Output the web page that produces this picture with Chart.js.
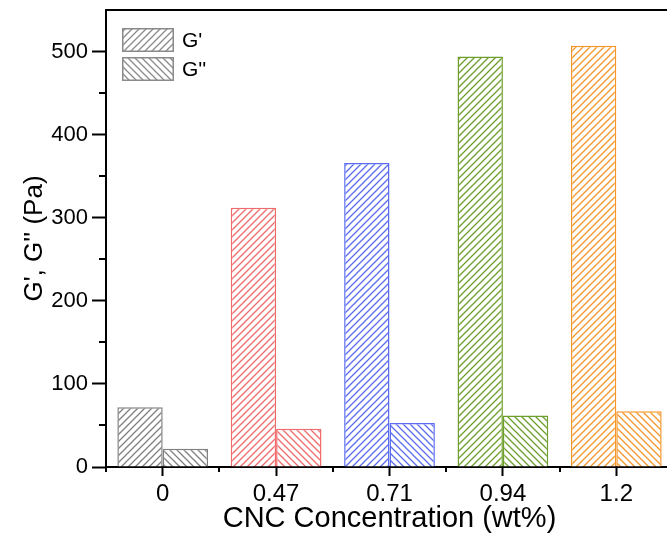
<!DOCTYPE html>
<html>
<head>
<meta charset="utf-8">
<script src="https://cdn.jsdelivr.net/npm/chart.js"></script>
<style>
  html, body { margin: 0; padding: 0; background: #fff; overflow: hidden; }
  #wrap { width: 680px; height: 538px; }
</style>
</head>
<body>
<div id="wrap"><canvas id="modulusChart" width="680" height="538"></canvas></div>
<script>
  // CNC concentration (wt%) on x, moduli in Pa
  const categories = ['0', '0.47', '0.71', '0.94', '1.2'];
  const storageModulus = [72, 312, 366, 494, 507];   // G'
  const lossModulus = [22, 46, 53, 62, 67];          // G''
  const yTicks = [0, 100, 200, 300, 400, 500];
  const yMinorTicks = [50, 150, 250, 350, 450];

  const barColors = ['#808080', '#f06b6b', '#5b6cf0', '#6d9f2c', '#f5962a'];
  const FONT = "'Liberation Sans', Arial, sans-serif";

  const ctx = document.getElementById('modulusChart').getContext('2d');

  // diagonal hatch, dir 1 = "/", dir -1 = "\"
  function hatch(color, dir) {
    const s = 7;
    const c = document.createElement('canvas');
    c.width = s; c.height = s;
    const g = c.getContext('2d');
    g.fillStyle = '#fff';
    g.fillRect(0, 0, s, s);
    g.strokeStyle = color;
    g.lineWidth = 1.3;
    g.beginPath();
    if (dir > 0) {
      g.moveTo(-1, s + 1); g.lineTo(s + 1, -1);
      g.moveTo(-1, 1); g.lineTo(1, -1);
      g.moveTo(s - 1, s + 1); g.lineTo(s + 1, s - 1);
    } else {
      g.moveTo(-1, -1); g.lineTo(s + 1, s + 1);
      g.moveTo(s - 1, -1); g.lineTo(s + 1, 1);
      g.moveTo(-1, s - 1); g.lineTo(1, s + 1);
    }
    g.stroke();
    return ctx.createPattern(c, 'repeat');
  }

  // top frame line, minor ticks and the inset legend
  const axisExtras = {
    id: 'axisExtras',
    afterDraw(chart) {
      const { ctx, chartArea: a, scales: { x, y } } = chart;
      ctx.save();
      ctx.strokeStyle = '#000';
      ctx.lineWidth = 2;
      ctx.beginPath();
      ctx.moveTo(a.left - 1, a.top);
      ctx.lineTo(chart.width, a.top);
      yMinorTicks.forEach(v => {
        const py = Math.round(y.getPixelForValue(v));
        ctx.moveTo(a.left - 7, py);
        ctx.lineTo(a.left, py);
      });
      const half = (x.getPixelForValue(1) - x.getPixelForValue(0)) / 2;
      for (let i = 0; i <= categories.length; i++) {
        const px = Math.round(x.getPixelForValue(0) - half + i * 2 * half);
        ctx.moveTo(px, a.bottom);
        ctx.lineTo(px, a.bottom + 5);
      }
      ctx.stroke();

      // legend
      chart.data.datasets.forEach((ds, i) => {
        const top = 28 + i * 29;
        ctx.fillStyle = hatch('#8a8a8a', i === 0 ? 1 : -1);
        ctx.fillRect(122, top, 52, 24);
        ctx.strokeStyle = '#8a8a8a';
        ctx.lineWidth = 1.5;
        ctx.strokeRect(122.75, top + 0.75, 50.5, 22.5);
        ctx.fillStyle = '#000';
        ctx.font = '21px ' + FONT;
        ctx.textBaseline = 'middle';
        ctx.fillText(ds.label, 182, top + 13);
      });
      ctx.restore();
    }
  };

  new Chart(ctx, {
    type: 'bar',
    data: {
      labels: categories,
      datasets: [
        {
          label: "G'",
          data: storageModulus,
          backgroundColor: barColors.map(c => hatch(c, 1)),
          borderColor: barColors,
          borderWidth: 1.5
        },
        {
          label: "G''",
          data: lossModulus,
          backgroundColor: barColors.map(c => hatch(c, -1)),
          borderColor: barColors,
          borderWidth: 1.5
        }
      ]
    },
    options: {
      responsive: false,
      animation: false,
      layout: { padding: { top: 10, right: 7, left: 0, bottom: 0 } },
      datasets: { bar: { categoryPercentage: 0.8, barPercentage: 1.0 } },
      plugins: { legend: { display: false }, tooltip: { enabled: false } },
      scales: {
        x: {
          offset: true,
          grid: { offset: false, drawOnChartArea: false, tickLength: 9, tickWidth: 2, tickColor: '#000' },
          border: { color: '#000', width: 2 },
          ticks: { color: '#000', font: { family: FONT, size: 24 }, padding: 4, maxRotation: 0 },
          title: {
            display: true,
            text: 'CNC Concentration (wt%)',
            color: '#000',
            font: { family: FONT, size: 29 },
            padding: { top: 0, bottom: 2 }
          },
          afterFit: s => { s.height = 71; }
        },
        y: {
          min: 0,
          max: 550,
          afterBuildTicks: s => { s.ticks = yTicks.map(v => ({ value: v })); },
          grid: { drawOnChartArea: false, tickLength: 14, tickWidth: 2, tickColor: '#000' },
          border: { color: '#000', width: 2 },
          ticks: { color: '#000', font: { family: FONT, size: 22 }, padding: 4 },
          title: {
            display: true,
            text: "G', G'' (Pa)",
            color: '#000',
            font: { family: FONT, size: 26 },
            padding: { top: 19, bottom: 0 }
          },
          afterFit: s => {
            s.width = 106;
            s.paddingTop = 0;
            s.paddingBottom = 0;
          }
        }
      }
    },
    plugins: [axisExtras]
  });
</script>
</body>
</html>
